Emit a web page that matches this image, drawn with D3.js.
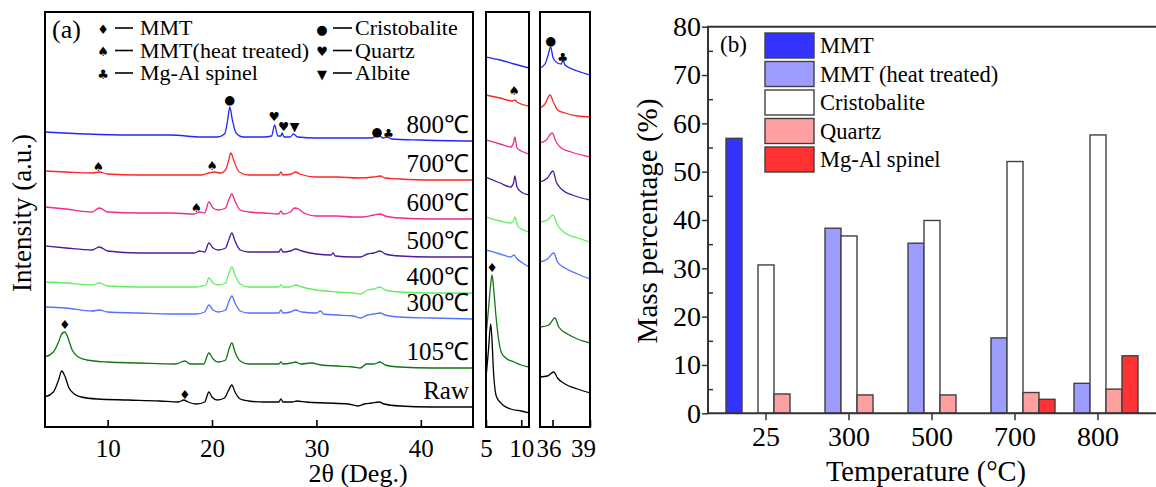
<!DOCTYPE html>
<html><head><meta charset="utf-8">
<script src="https://cdn.jsdelivr.net/npm/d3@7"></script>
</head><body style="margin:0;background:#fff">
<svg id="c" width="1156" height="487"></svg>
<script>
// ---------------- DATA: panel (a) XRD patterns (2θ, intensity a.u. incl. offset) ----------------
const curveNames  = ["Raw","105℃","300℃","400℃","500℃","600℃","700℃","800℃"];
const curveColors = ["#000000","#137513","#5272ff","#62ee62","#4a1c9c","#ef2a8c","#ff2424","#2424ff"];

const main_Raw = [[4,29],[4.8,34],[5.3,46],[5.6,55],[5.9,50],[6.3,38],[6.8,32],[7.5,29],[9,27],[12,26],[15,25],[16.8,24],[17.3,26],[17.7,24],[18.5,22],[19.3,24],[19.7,34],[20.0,29],[20.5,26],[21.2,28],[21.6,36],[21.9,41],[22.2,34],[22.7,27],[23.5,25],[25,24],[26.4,24],[26.6,27],[26.8,24],[27.7,24],[28.1,25],[29,24],[31,23],[33,22],[34,20],[34.6,22],[35.3,23],[36,24],[36.5,22],[38,20],[41,19],[45,19]];
const main_105 = [[4,69],[4.8,74],[5.3,84],[5.6,92],[5.9,94],[6.2,88],[6.6,76],[7.2,69],[8,66],[10,64],[13,63],[16.5,62],[17.4,65],[17.9,62],[19.2,62],[19.7,73],[20.1,67],[20.6,64],[21.3,66],[21.6,76],[21.9,83],[22.2,74],[22.7,65],[23.5,62],[25,62],[26.4,62],[26.6,64],[26.8,62],[27.6,63],[28,64],[28.5,62],[29.5,63],[30.5,61],[32,60],[33.5,59],[34.2,58],[34.8,62],[35.5,62],[36.1,64],[36.6,61],[38,59],[41,58],[45,58]];
const main_300 = [[4,119],[6,118],[8.5,115],[9.2,116],[10,114],[13,113],[16,112],[18.5,112],[19.3,114],[19.7,121],[20.1,116],[20.6,114],[21.3,116],[21.6,124],[21.9,130],[22.2,123],[22.7,115],[23.5,113],[25,113],[26.4,113],[26.6,116],[26.8,113],[27.5,114],[28,116],[28.6,114],[30,113],[30.4,115],[30.7,112],[32,111],[33.5,110],[34.2,108],[34.9,111],[35.5,112],[36.1,113],[36.6,111],[38,109],[41,108],[45,107]];
const main_400 = [[4,144],[6,143],[8.5,141],[9.2,143],[10,140],[13,139],[16,139],[18.5,139],[19.0,140],[19.4,141],[19.7,148],[20.1,143],[20.6,141],[21.3,143],[21.6,152],[21.9,159],[22.2,151],[22.7,142],[23.5,139],[25,139],[26.4,139],[26.6,141],[26.8,139],[27.5,139],[28,141],[28.6,139],[30,136],[32,134],[33.5,133],[34.2,132],[34.9,136],[35.5,137],[36.1,139],[36.6,136],[38,134],[41,133],[45,133]];
const main_500 = [[4,180],[6,178],[8.5,176],[9.2,179],[10,175],[13,173],[16,173],[18.3,173],[18.8,175],[19.3,174],[19.7,183],[20.1,178],[20.6,176],[21.3,178],[21.6,186],[21.9,193],[22.2,185],[22.7,176],[23.5,174],[25,174],[26.4,174],[26.6,177],[26.8,174],[27.5,175],[28,177],[28.6,175],[30,172],[31.4,171],[31.6,173],[31.8,170],[33.5,169],[34.2,169],[34.9,172],[35.5,173],[36.1,175],[36.6,172],[38,170],[41,169],[45,169]];
const main_600 = [[4,219],[6,217],[8.5,214],[9.2,218],[10,214],[13,213],[16,213],[18.3,212],[18.8,214],[19.3,213],[19.7,224],[20.1,218],[20.6,216],[21.3,218],[21.6,226],[21.9,232],[22.2,225],[22.7,216],[23.5,214],[25,213],[26.4,212],[26.6,215],[26.8,212],[27.5,214],[27.9,218],[28.3,217],[28.8,213],[30,210],[32,210],[33.5,209],[34.5,209],[35.5,211],[36.1,212],[36.6,210],[38,208],[41,207],[45,207]];
const main_700 = [[4,255],[6,254],[8.5,253],[9.2,254],[10,252],[13,251],[16,251],[19,251],[19.7,253],[20.2,254],[20.8,253],[21.3,256],[21.6,266],[21.8,273],[22.1,265],[22.6,254],[23.5,251],[25,251],[26.4,251],[26.6,254],[26.8,251],[27.6,252],[28,254],[28.4,252],[30,249],[32,249],[34,248],[35.5,249],[36.1,250],[36.6,248],[38,247],[41,246],[45,246]];
const main_800 = [[4,294],[8,292],[12,291],[16,291],[19,289],[20.5,289],[21.2,292],[21.5,306],[21.7,319],[21.95,306],[22.3,293],[23,289],[25,289],[25.7,290],[26.0,301],[26.3,290],[26.6,290],[26.7,293],[26.9,289],[27.5,289],[27.8,292],[28.2,289],[30,288],[33,288],[35.3,288],[35.9,291],[36.4,288],[36.8,289],[37.2,287],[40,286],[45,285]];

// magnified low-angle window (5–11°)
const low_Raw = [[5,48],[5.35,76],[5.67,102],[5.85,86],[6.05,56],[6.5,29],[7.4,21],[8.5,17],[10,15],[11.1,13]];
const low_105 = [[5,89],[5.4,121],[5.7,144],[5.86,151],[6.1,136],[6.4,111],[6.8,86],[7.2,73],[8,67],[9,64],[10,61],[11.1,59]];
const low_300 = [[5,176],[7,172],[8.5,169],[9.0,171],[9.3,168],[10.2,163],[11.1,159]];
const low_400 = [[5,209],[7,205],[8.5,203],[8.9,205],[9.1,209],[9.5,200],[10.3,196],[11.1,194]];
const low_500 = [[5,249],[7,243],[8.5,239],[8.9,243],[9.1,250],[9.4,239],[10,234],[11.1,231]];
const low_600 = [[5,286],[7,282],[8.5,279],[8.9,283],[9.1,289],[9.4,278],[10,275],[11.1,272]];
const low_700 = [[5,331],[7,328],[8.8,325],[9.1,326],[9.4,324],[11.1,320]];
const low_800 = [[5,369],[7,366],[9,362],[11.1,358]];

// magnified window (35–39°)
const high_Raw = [[35,49],[35.6,50],[36.1,54],[36.4,48],[37,42],[38,37],[39,33]];
const high_105 = [[35,99],[35.7,101],[36.2,108],[36.5,99],[37.2,92],[38,87],[39,83]];
const high_300 = [[35,164],[35.6,167],[36.1,173],[36.4,164],[37,158],[38,152],[39,147]];
const high_400 = [[35,204],[35.6,206],[36.04,211],[36.4,201],[37,193],[38,188],[39,184]];
const high_500 = [[35,244],[35.6,248],[36.04,255],[36.3,244],[36.8,236],[37.6,231],[39,226]];
const high_600 = [[35,283],[35.5,286],[35.96,293],[36.3,284],[36.7,278],[37.5,274],[39,269]];
const high_700 = [[35,318],[35.4,322],[35.8,331],[36.1,323],[36.4,316],[37,313],[38,310],[39,309]];
const high_800 = [[35,358],[35.4,362],[35.65,371],[35.85,379],[36.05,368],[36.4,363],[36.7,362],[36.85,366],[37.0,361],[38,355],[39,351]];

// phase markers [symbol, 2θ, intensity]
const mainMarkers = [["●",21.7,327],["♥",25.95,310],["♥",26.85,300],["▼",27.9,300],["●",35.8,295],["♣",36.9,293],
  ["♠",9.1,260],["♠",20.0,261],["♠",18.5,219],["♦",5.9,102],["♦",17.4,32]];
const lowMarkers  = [["♠",9.0,336],["♦",5.86,159]];
const highMarkers = [["●",35.85,386],["♣",36.8,369]];

const legendSymbols = ["♦","♠","♣","●","♥","▼"];
const legendNames   = ["MMT","MMT(heat treated)","Mg-Al spinel","Cristobalite","Quartz","Albite"];

const mainTicks = [10,20,30,40];
const lowTicks  = [5,10];
const highTicks = [36,39];

// ---------------- DATA: panel (b) mass percentage ----------------
const temps = ["25","300","500","700","800"];
const phases = ["MMT","MMT (heat treated)","Cristobalite","Quartz","Mg-Al spinel"];
const phaseColors = ["#3333ff","#9d9dff","#ffffff","#ffa0a0","#ff3333"];
const valMMT   = [56.9, null, null, null, null];
const valHeat  = [null, 38.3, 35.2, 15.6, 6.2];
const valCrist = [30.7, 36.7, 39.9, 52.1, 57.6];
const valQuartz= [4.0, 3.8, 3.8, 4.3, 5.0];
const valSpinel= [null, null, null, 2.9, 11.9];
const massTicks = [0,10,20,30,40,50,60,70,80];
const massMinor = [5,15,25,35,45,55,65,75];

// ---------------- DRAW ----------------
const SERIF = '"Liberation Serif", "Times New Roman", Times, serif';
const SYM = '"DejaVu Sans", sans-serif';
const svg = d3.select("#c").style("font-family", SERIF);
function txt(sel, x, y, size, s, anchor){
  return sel.append("text").attr("x",x).attr("y",y).style("font-family",SERIF)
    .style("font-size",size+"px").attr("text-anchor",anchor||"start").attr("fill","#000").text(s);
}
const yI = d3.scaleLinear().domain([0,414]).range([426,12]);
const frames = [
  {x:d3.scaleLinear().domain([4,45]).range([45,473]), curves:[main_Raw,main_105,main_300,main_400,main_500,main_600,main_700,main_800], markers:mainMarkers, ticks:mainTicks, id:"m"},
  {x:d3.scaleLinear().domain([5,11.1]).range([486,529]), curves:[low_Raw,low_105,low_300,low_400,low_500,low_600,low_700,low_800], markers:lowMarkers, ticks:lowTicks, id:"l"},
  {x:d3.scaleLinear().domain([35,39]).range([540,590]), curves:[high_Raw,high_105,high_300,high_400,high_500,high_600,high_700,high_800], markers:highMarkers, ticks:highTicks, id:"h"}
];
const defs = svg.append("defs");
frames.forEach(f=>{
  const [x0,x1] = f.x.range();
  const [y0,y1] = [yI.range()[1], yI.range()[0]+1];
  defs.append("clipPath").attr("id","clip"+f.id).append("rect")
    .attr("x",x0).attr("y",y0).attr("width",x1-x0).attr("height",y1-y0);
  const g = svg.append("g").attr("clip-path",`url(#clip${f.id})`);
  const line = d3.line().x(d=>f.x(d[0])).y(d=>yI(d[1])).curve(d3.curveMonotoneX);
  f.curves.forEach((c,i)=>{
    g.append("path").attr("d",line(c)).attr("fill","none")
      .attr("stroke",curveColors[i]).attr("stroke-width",1.3);
  });
  svg.append("g").selectAll("text").data(f.markers).join("text")
    .attr("x",d=>f.x(d[1])).attr("y",d=>yI(d[2])).attr("dy","0.36em")
    .attr("text-anchor","middle").style("font-family",SYM).style("font-size","12.5px").text(d=>d[0]);
  const ax = svg.append("g").attr("transform",`translate(0,${yI.range()[0]+1})`)
    .call(d3.axisBottom(f.x).tickValues(f.ticks).tickSizeInner(-7).tickSizeOuter(0).tickPadding(12).tickFormat(d3.format("d")));
  ax.select(".domain").remove();
  ax.selectAll(".tick line").attr("stroke","#000").attr("stroke-width",1.6);
  ax.selectAll("text").style("font-family",SERIF).style("font-size","25px");
  if(f.id==="h") ax.selectAll("text").attr("dx",d=>d===39?-7:-4);
  svg.append("rect").attr("x",x0).attr("y",y0).attr("width",x1-x0).attr("height",y1-y0)
    .attr("fill","none").attr("stroke","#000").attr("stroke-width",2);
});
// curve labels, placed just above the end of each curve
frames[0].curves.forEach((c,i)=>{ txt(svg, 469, yI(c[c.length-1][1]+8), 25, curveNames[i], "end"); });
txt(svg, 52, 38, 26, "(a)");
// legend (a)
legendSymbols.forEach((s,i)=>{
  const col = Math.floor(i/3), row = i%3;
  const by = 35 + row*22.5;
  const sx = col ? 322 : 103, lx0 = col ? 333 : 115, lx1 = col ? 352 : 133, tx = col ? 355 : 140;
  svg.append("text").attr("x",sx).attr("y",by).attr("dy","-0.1em")
    .attr("text-anchor","middle").style("font-family",SYM).style("font-size","13px").text(s);
  svg.append("line").attr("x1",lx0).attr("x2",lx1).attr("y1",by-7).attr("y2",by-7)
    .attr("stroke","#000").attr("stroke-width",1.6);
  txt(svg, tx, by, 22, legendNames[i]);
});
txt(svg, 0, 0, 27, "Intensity (a.u.)", "middle").attr("x",null).attr("y",null)
  .attr("transform","translate(31,213) rotate(-90)");
txt(svg, 358, 482, 26, "2θ (Deg.)", "middle");

// ---------------- panel (b) ----------------
const bL = 708, bR = 1160;
const yB = d3.scaleLinear().domain([0,80]).range([413.3,26.7]);
const x0 = d3.scaleBand().domain(temps).range([724.5,1139.5]).paddingInner(3/83).paddingOuter(1.5/83);
const x1 = d3.scaleBand().domain(phases).range([0,x0.bandwidth()]);
const series = [valMMT,valHeat,valCrist,valQuartz,valSpinel];
const bars = [];
series.forEach((vals,si)=>vals.forEach((v,ti)=>{ if(v!=null) bars.push({t:temps[ti],p:phases[si],v,c:phaseColors[si]}); }));
svg.append("g").selectAll("rect").data(bars).join("rect")
  .attr("x",d=>x0(d.t)+x1(d.p)).attr("width",x1.bandwidth())
  .attr("y",d=>yB(d.v)).attr("height",d=>yB(0)-yB(d.v))
  .attr("fill",d=>d.c).attr("stroke","#404040").attr("stroke-width",1.4);
const ayB = svg.append("g").attr("transform",`translate(${bL},0)`)
  .call(d3.axisLeft(yB).tickValues(massTicks).tickSizeInner(6).tickSizeOuter(0).tickPadding(1).tickFormat(d3.format("d")));
ayB.select(".domain").remove();
ayB.selectAll("text").style("font-family",SERIF).style("font-size","28px");
ayB.selectAll(".tick line").attr("stroke","#333").attr("stroke-width",1.5);
const ayM = svg.append("g").attr("transform",`translate(${bL},0)`)
  .call(d3.axisLeft(yB).tickValues(massMinor).tickSizeInner(-5).tickSizeOuter(0).tickFormat(""));
ayM.select(".domain").remove();
ayM.selectAll(".tick line").attr("stroke","#333").attr("stroke-width",1.5);
const axB = svg.append("g").attr("transform",`translate(0,${yB(0)})`)
  .call(d3.axisBottom(x0).tickSizeInner(7).tickSizeOuter(0).tickPadding(6));
axB.select(".domain").remove();
axB.selectAll("text").style("font-family",SERIF).style("font-size","28px");
axB.selectAll(".tick line").attr("stroke","#333").attr("stroke-width",1.5);
svg.append("path").attr("d",`M${bR},${yB(80)}H${bL}V${yB(0)}H${bR}`).attr("fill","none")
  .attr("stroke","#333").attr("stroke-width",2);
phases.forEach((p,i)=>{
  const ty = 33 + i*28.5;
  svg.append("rect").attr("x",765).attr("y",ty).attr("width",49).attr("height",25)
    .attr("fill",phaseColors[i]).attr("stroke","#404040").attr("stroke-width",1.4);
  txt(svg, 820, ty+20, 22.5, p);
});
txt(svg, 720, 52, 23, "(b)");
txt(svg, 0, 0, 29, "Mass percentage (%)", "middle").attr("x",null).attr("y",null)
  .attr("transform","translate(657,221) rotate(-90)");
txt(svg, 926, 481, 28.5, "Temperature (°C)", "middle");
</script>
</body></html>
